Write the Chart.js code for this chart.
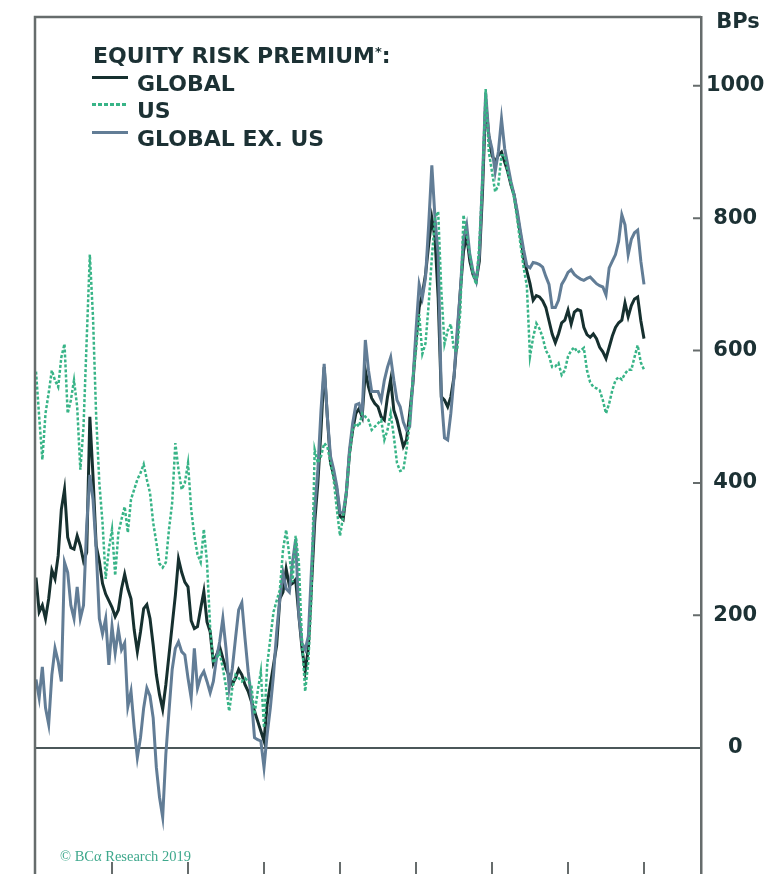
<!DOCTYPE html>
<html>
<head>
<meta charset="utf-8">
<script src="https://cdn.jsdelivr.net/npm/chart.js@4.4.0/dist/chart.umd.min.js"></script>
<style>
  html, body { margin: 0; padding: 0; background: #fff; }
  #wrap { position: relative; width: 773px; height: 874px; overflow: hidden; }
  #legend { position: absolute; left: 92px; top: 38px; font: bold 22px "DejaVu Sans", sans-serif; color: #1c3134; line-height: 27.7px; white-space: nowrap; }
  #legend .title { padding-left: 1px; }
  #legend .ast { font-size: 13px; vertical-align: 7px; }
  #legend .row { position: relative; padding-left: 45px; }
  #legend .swatch { position: absolute; left: 0; top: 6px; width: 36px; height: 3px; }
  #copy { position: absolute; left: 60px; top: 849px; font: 14.5px "Liberation Serif", serif; color: #3ea88c; line-height: 14px; }
</style>
</head>
<body>
<div id="wrap">
  <canvas id="erpChart" width="773" height="874"></canvas>
  <div id="legend">
    <div class="title">EQUITY RISK PREMIUM<span class="ast">*</span>:</div>
    <div class="row"><span class="swatch" style="background:#16302f"></span>GLOBAL</div>
    <div class="row"><span class="swatch" style="background:repeating-linear-gradient(to right,#38b487 0 4px,transparent 4px 6px)"></span>US</div>
    <div class="row"><span class="swatch" style="background:#627d96"></span>GLOBAL EX. US</div>
  </div>
  <div id="copy">© BCα Research 2019</div>
</div>
<script>
// equity risk premium in bps, two readings per month
const globalErp = [257, 205, 215, 195, 225, 268, 255, 290, 360, 390,
    318, 302, 300, 320, 305, 282, 295, 500, 410, 305,
    282, 248, 232, 222, 212, 198, 208, 240, 262, 240,
    225, 178, 145, 175, 210, 216, 195, 155, 110, 80,
    58, 95, 140, 185, 230, 285, 265, 250, 243, 192,
    180, 183, 210, 236, 190, 175, 128, 140, 152, 135,
    120, 108, 96, 105, 118, 110, 95, 85, 70, 55,
    40, 25, 10, 65, 95, 125, 155, 225, 235, 270,
    245, 248, 254, 200, 150, 115, 150, 245, 340, 400,
    480, 575, 500, 430, 412, 390, 350, 345, 385, 445,
    480, 505, 512, 500, 570, 545, 528, 520, 515, 500,
    495, 530, 556, 510, 495, 475, 455, 465, 505, 550,
    615, 665, 685, 715, 760, 800, 770, 680, 530, 525,
    515, 530, 560, 620, 690, 750, 775, 735, 715, 705,
    735, 840, 975, 925, 895, 885, 895, 900, 885, 870,
    850, 835, 805, 775, 740, 720, 701, 676, 683, 681,
    675, 665, 645, 625, 612, 625, 642, 646, 661, 640,
    658, 662, 660, 635, 624, 620, 625, 618, 605, 598,
    588, 605, 622, 635, 642, 646, 672, 651, 668, 678,
    681, 645, 618];
const usErp = [568, 500, 435, 505, 536, 570, 555, 545, 590, 610,
    505, 525, 555, 515, 420, 485, 616, 745, 650, 500,
    400, 340, 255, 300, 330, 260, 324, 345, 364, 325,
    375, 390, 405, 415, 428, 405, 385, 340, 310, 278,
    272, 280, 330, 370, 460, 420, 390, 400, 430, 360,
    320, 292, 280, 330, 280, 180, 128, 135, 143, 120,
    92, 55, 90, 110, 105, 100, 105, 100, 95, 50,
    85, 115, 30, 125, 165, 205, 222, 238, 299, 329,
    290, 250, 320, 280, 160, 85, 130, 230, 450, 430,
    440, 460, 455, 430, 405, 360, 320, 350, 385, 440,
    480, 490, 485, 505, 500, 495, 480, 485, 490, 495,
    465, 480, 505, 470, 430, 418, 420, 450, 490, 560,
    600, 655, 595, 611, 670, 740, 800, 810, 690, 610,
    630, 640, 600, 600, 660, 805, 775, 745, 715, 700,
    760, 860, 995, 900, 870, 840, 850, 895, 895, 868,
    852, 830, 797, 760, 725, 698, 591, 620, 641, 633,
    620, 600, 592, 575, 576, 581, 563, 570, 591, 600,
    605, 597, 600, 604, 570, 552, 545, 543, 540, 525,
    505, 520, 540, 555, 560, 556, 565, 571, 571, 590,
    608, 582, 571];
const exUsErp = [103, 75, 122, 60, 35, 110, 150, 130, 100, 280,
    265, 215, 195, 243, 195, 215, 335, 412, 375, 300,
    195, 172, 195, 125, 183, 143, 178, 148, 158, 62,
    85, 30, -15, 15, 60, 90, 78, 45, -30, -75,
    -105, -10, 55, 118, 150, 160, 145, 140, 105, 75,
    150, 90, 107, 115, 100, 83, 100, 135, 160, 195,
    150, 90, 120, 165, 208, 219, 165, 115, 75, 15,
    12, 10, -30, 20, 60, 110, 175, 225, 264, 240,
    235, 280, 315, 200, 158, 148, 168, 270, 360, 420,
    510, 580, 500, 440, 420, 395, 355, 355, 385, 450,
    490, 518, 520, 505, 616, 570, 538, 538, 538, 525,
    555, 575, 590, 555, 525, 515, 492, 480, 485, 552,
    630, 700, 680, 710, 790, 880, 800, 745, 530, 468,
    465, 505, 560, 630, 690, 770, 790, 745, 720, 705,
    745, 860, 990, 925, 905, 870, 900, 950, 905, 880,
    855, 835, 810, 780, 752, 728, 725, 733, 732, 730,
    726, 712, 700, 665, 665, 676, 700, 708, 718, 722,
    715, 711, 708, 706, 709, 711, 706, 701, 698, 696,
    684, 725, 735, 745, 765, 805, 790, 745, 768, 778,
    782, 735, 700];
const periods = globalErp.map((_, i) => i);
const yTicks = [0, 200, 400, 600, 800, 1000];
const yearTicks = [24, 48, 72, 96, 120, 144, 168, 192];

const textColor = '#1c3134';
const axisColor = '#666c6c';

const toPoints = arr => arr.map((v, i) => ({ x: periods[i], y: v }));

// frame lines, inward tick marks and the unit label
const framePlugin = {
    id: 'frame',
    afterDraw(chart) {
        const { ctx, chartArea: a, scales: { x, y } } = chart;
        ctx.save();
        ctx.strokeStyle = axisColor;
        ctx.lineWidth = 2.5;
        ctx.beginPath();
        ctx.moveTo(a.left, a.bottom);
        ctx.lineTo(a.left, a.top);
        ctx.lineTo(a.right, a.top);
        ctx.stroke();
        ctx.lineWidth = 2;
        ctx.beginPath();
        yTicks.filter(v => v !== 0).forEach(v => {
            const py = y.getPixelForValue(v);
            ctx.moveTo(a.right - 8, py);
            ctx.lineTo(a.right, py);
        });
        yearTicks.forEach(v => {
            const px = x.getPixelForValue(v);
            ctx.moveTo(px, a.bottom - 12);
            ctx.lineTo(px, a.bottom);
        });
        ctx.stroke();
        ctx.fillStyle = textColor;
        ctx.font = 'bold 21px "DejaVu Sans"';
        ctx.textAlign = 'center';
        ctx.textBaseline = 'alphabetic';
        ctx.fillText('BPs', (y.left + y.right) / 2 + 1, a.top + 11);
        ctx.restore();
    }
};

const ctx = document.getElementById('erpChart').getContext('2d');
const erpChart = new Chart(ctx, {
    type: 'line',
    data: {
        datasets: [{
            label: 'GLOBAL',
            data: toPoints(globalErp),
            borderColor: '#16302f',
            borderWidth: 3,
            order: 3
        }, {
            label: 'US',
            data: toPoints(usErp),
            borderColor: '#38b487',
            borderWidth: 2.5,
            borderDash: [3, 2],
            order: 1
        }, {
            label: 'GLOBAL EX. US',
            data: toPoints(exUsErp),
            borderColor: '#627d96',
            borderWidth: 3,
            order: 2
        }]
    },
    options: {
        responsive: false,
        animation: false,
        elements: { point: { radius: 0 }, line: { tension: 0 } },
        layout: { padding: { left: 35, top: 17, right: 0, bottom: 0 } },
        plugins: { legend: { display: false }, tooltip: { enabled: false } },
        scales: {
            x: { type: 'linear', display: false, min: -0.32, max: 210 },
            y: {
                position: 'right',
                min: -191,
                max: 1104,
                afterBuildTicks: s => { s.ticks = yTicks.map(v => ({ value: v })); },
                afterFit: s => { s.width = 72; s.paddingTop = 0; s.paddingBottom = 0; },
                grid: {
                    drawTicks: false,
                    lineWidth: 2,
                    color: c => (c.tick && c.tick.value === 0) ? '#4b5759' : 'transparent'
                },
                border: { display: true, color: axisColor, width: 2.5 },
                ticks: {
                    crossAlign: 'center',
                    padding: 5,
                    color: textColor,
                    font: { family: 'DejaVu Sans', size: 21, weight: 'bold' },
                    callback: v => String(v)
                }
            }
        }
    },
    plugins: [framePlugin]
});
</script>
</body>
</html>
